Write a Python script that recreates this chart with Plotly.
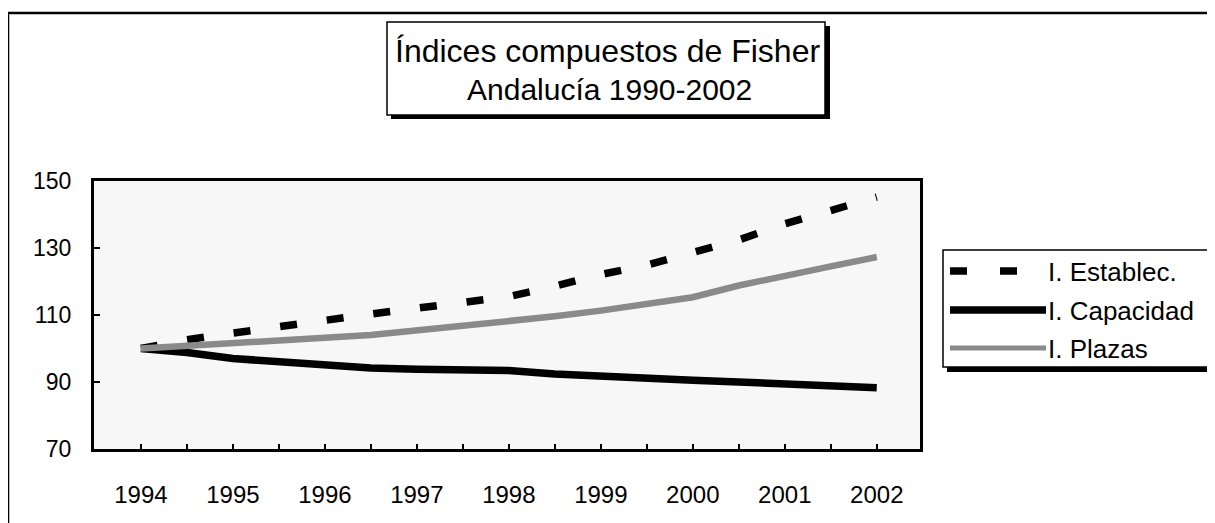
import plotly.graph_objects as go

# ---- data (half-yearly points) ----
periods = [1994.0, 1994.5, 1995.0, 1995.5, 1996.0, 1996.5, 1997.0, 1997.5, 1998.0,
           1998.5, 1999.0, 1999.5, 2000.0, 2000.5, 2001.0, 2001.5, 2002.0]
tick_labels = ["1994", "", "1995", "", "1996", "", "1997", "", "1998",
               "", "1999", "", "2000", "", "2001", "", "2002"]
establec = [100.0, 102.6, 104.6, 106.3, 108.4, 110.3, 112.0, 113.6, 115.5,
            118.6, 122.1, 124.9, 128.6, 132.4, 137.2, 141.3, 145.2]
capacidad = [100.0, 98.8, 97.0, 96.0, 95.0, 94.2, 93.8, 93.6, 93.4,
             92.4, 91.6, 91.0, 90.5, 90.0, 89.5, 88.9, 88.3]
plazas = [100.0, 100.9, 101.7, 102.4, 103.2, 104.0, 105.3, 106.6, 108.1,
          109.6, 111.3, 113.3, 115.3, 118.8, 121.8, 124.5, 127.3]
series_names = ["I. Establec.", "I. Capacidad", "I. Plazas"]
y_ticks = [70, 90, 110, 130, 150]

# the page body adds an 8px margin, so the figure is laid out in page pixels minus OFF
OFF = 8
W, H = 1215 - OFF, 523 - OFF
PLOT_L, PLOT_R, PLOT_T, PLOT_B = 94, 920, 181, 449  # page pixels
ML, MR, MT, MB = PLOT_L - OFF, W - (PLOT_R - OFF), PLOT_T - OFF, H - (PLOT_B - OFF)
PW, PH = W - ML - MR, H - MT - MB
FONT = "Arial, 'Liberation Sans', sans-serif"
PLAZAS_COLOR = "#8a8a8a"


def X(px):
    return (px - OFF - ML) / PW


def Y(py):
    return (H - MB - (py - OFF)) / PH


fig = go.Figure()
fig.add_trace(go.Scatter(x=periods, y=establec, mode="lines", name=series_names[0],
                         line=dict(color="black", width=7.5, dash="17px,30px")))
fig.add_trace(go.Scatter(x=periods, y=capacidad, mode="lines", name=series_names[1],
                         line=dict(color="black", width=7.5)))
fig.add_trace(go.Scatter(x=periods, y=plazas, mode="lines", name=series_names[2],
                         line=dict(color=PLAZAS_COLOR, width=6.5)))

shapes = []
# outer frame
shapes.append(dict(type="rect", xref="paper", yref="paper",
                   x0=X(8), x1=X(1260), y0=Y(13), y1=Y(600),
                   line=dict(color="black", width=2.5), fillcolor="rgba(0,0,0,0)", layer="below"))
# title box with shadow
shapes.append(dict(type="rect", xref="paper", yref="paper",
                   x0=X(391), x1=X(830), y0=Y(26), y1=Y(119),
                   line=dict(color="black", width=0), fillcolor="black"))
shapes.append(dict(type="rect", xref="paper", yref="paper",
                   x0=X(387), x1=X(825), y0=Y(22), y1=Y(115),
                   line=dict(color="black", width=1.5), fillcolor="white"))
# legend box with shadow
shapes.append(dict(type="rect", xref="paper", yref="paper",
                   x0=X(947), x1=X(1213), y0=Y(254), y1=Y(372),
                   line=dict(color="black", width=0), fillcolor="black"))
shapes.append(dict(type="rect", xref="paper", yref="paper",
                   x0=X(943), x1=X(1208), y0=Y(250), y1=Y(367),
                   line=dict(color="black", width=1.5), fillcolor="white"))
# legend swatches
leg_y = [271, 310, 348]
leg_styles = [dict(color="black", width=7.5, dash="17px,33px"),
              dict(color="black", width=7.5),
              dict(color=PLAZAS_COLOR, width=5)]
annotations = []
for name, ly, st in zip(series_names, leg_y, leg_styles):
    shapes.append(dict(type="line", xref="paper", yref="paper",
                       x0=X(950), x1=X(1046), y0=Y(ly), y1=Y(ly), line=st))
    annotations.append(dict(text=name, xref="paper", yref="paper", x=X(1046), y=Y(ly + 1),
                            xanchor="left", yanchor="middle", showarrow=False,
                            font=dict(family=FONT, size=26, color="black")))

annotations.append(dict(text="Índices compuestos de Fisher", xref="paper", yref="paper",
                        x=X(607), y=Y(51), xanchor="center", yanchor="middle", showarrow=False,
                        font=dict(family=FONT, size=32, color="black")))
annotations.append(dict(text="Andalucía 1990-2002", xref="paper", yref="paper",
                        x=X(609), y=Y(90), xanchor="center", yanchor="middle", showarrow=False,
                        font=dict(family=FONT, size=30, color="black")))

fig.update_layout(
    width=W, height=H,
    margin=dict(l=ML, r=MR, t=MT, b=MB, pad=0),
    paper_bgcolor="white", plot_bgcolor="#f7f7f7",
    showlegend=False,
    font=dict(family=FONT, color="black"),
    shapes=shapes, annotations=annotations,
)
fig.update_xaxes(range=[1993.49, 2002.47], tickmode="array", tickvals=periods, ticktext=tick_labels,
                 ticks="inside", ticklen=5, tickwidth=2, tickcolor="black",
                 showline=True, linecolor="black", linewidth=3, mirror=True,
                 showgrid=False, zeroline=False, ticklabelstandoff=22,
                 tickfont=dict(family=FONT, size=24, color="black"))
fig.update_yaxes(range=[70, 150], tickmode="array", tickvals=y_ticks,
                 ticks="inside", ticklen=6, tickwidth=2, tickcolor="black",
                 showline=True, linecolor="black", linewidth=3, mirror=True,
                 showgrid=False, zeroline=False, ticklabelstandoff=15,
                 tickfont=dict(family=FONT, size=23, color="black"))

fig.write_html("out.html")
